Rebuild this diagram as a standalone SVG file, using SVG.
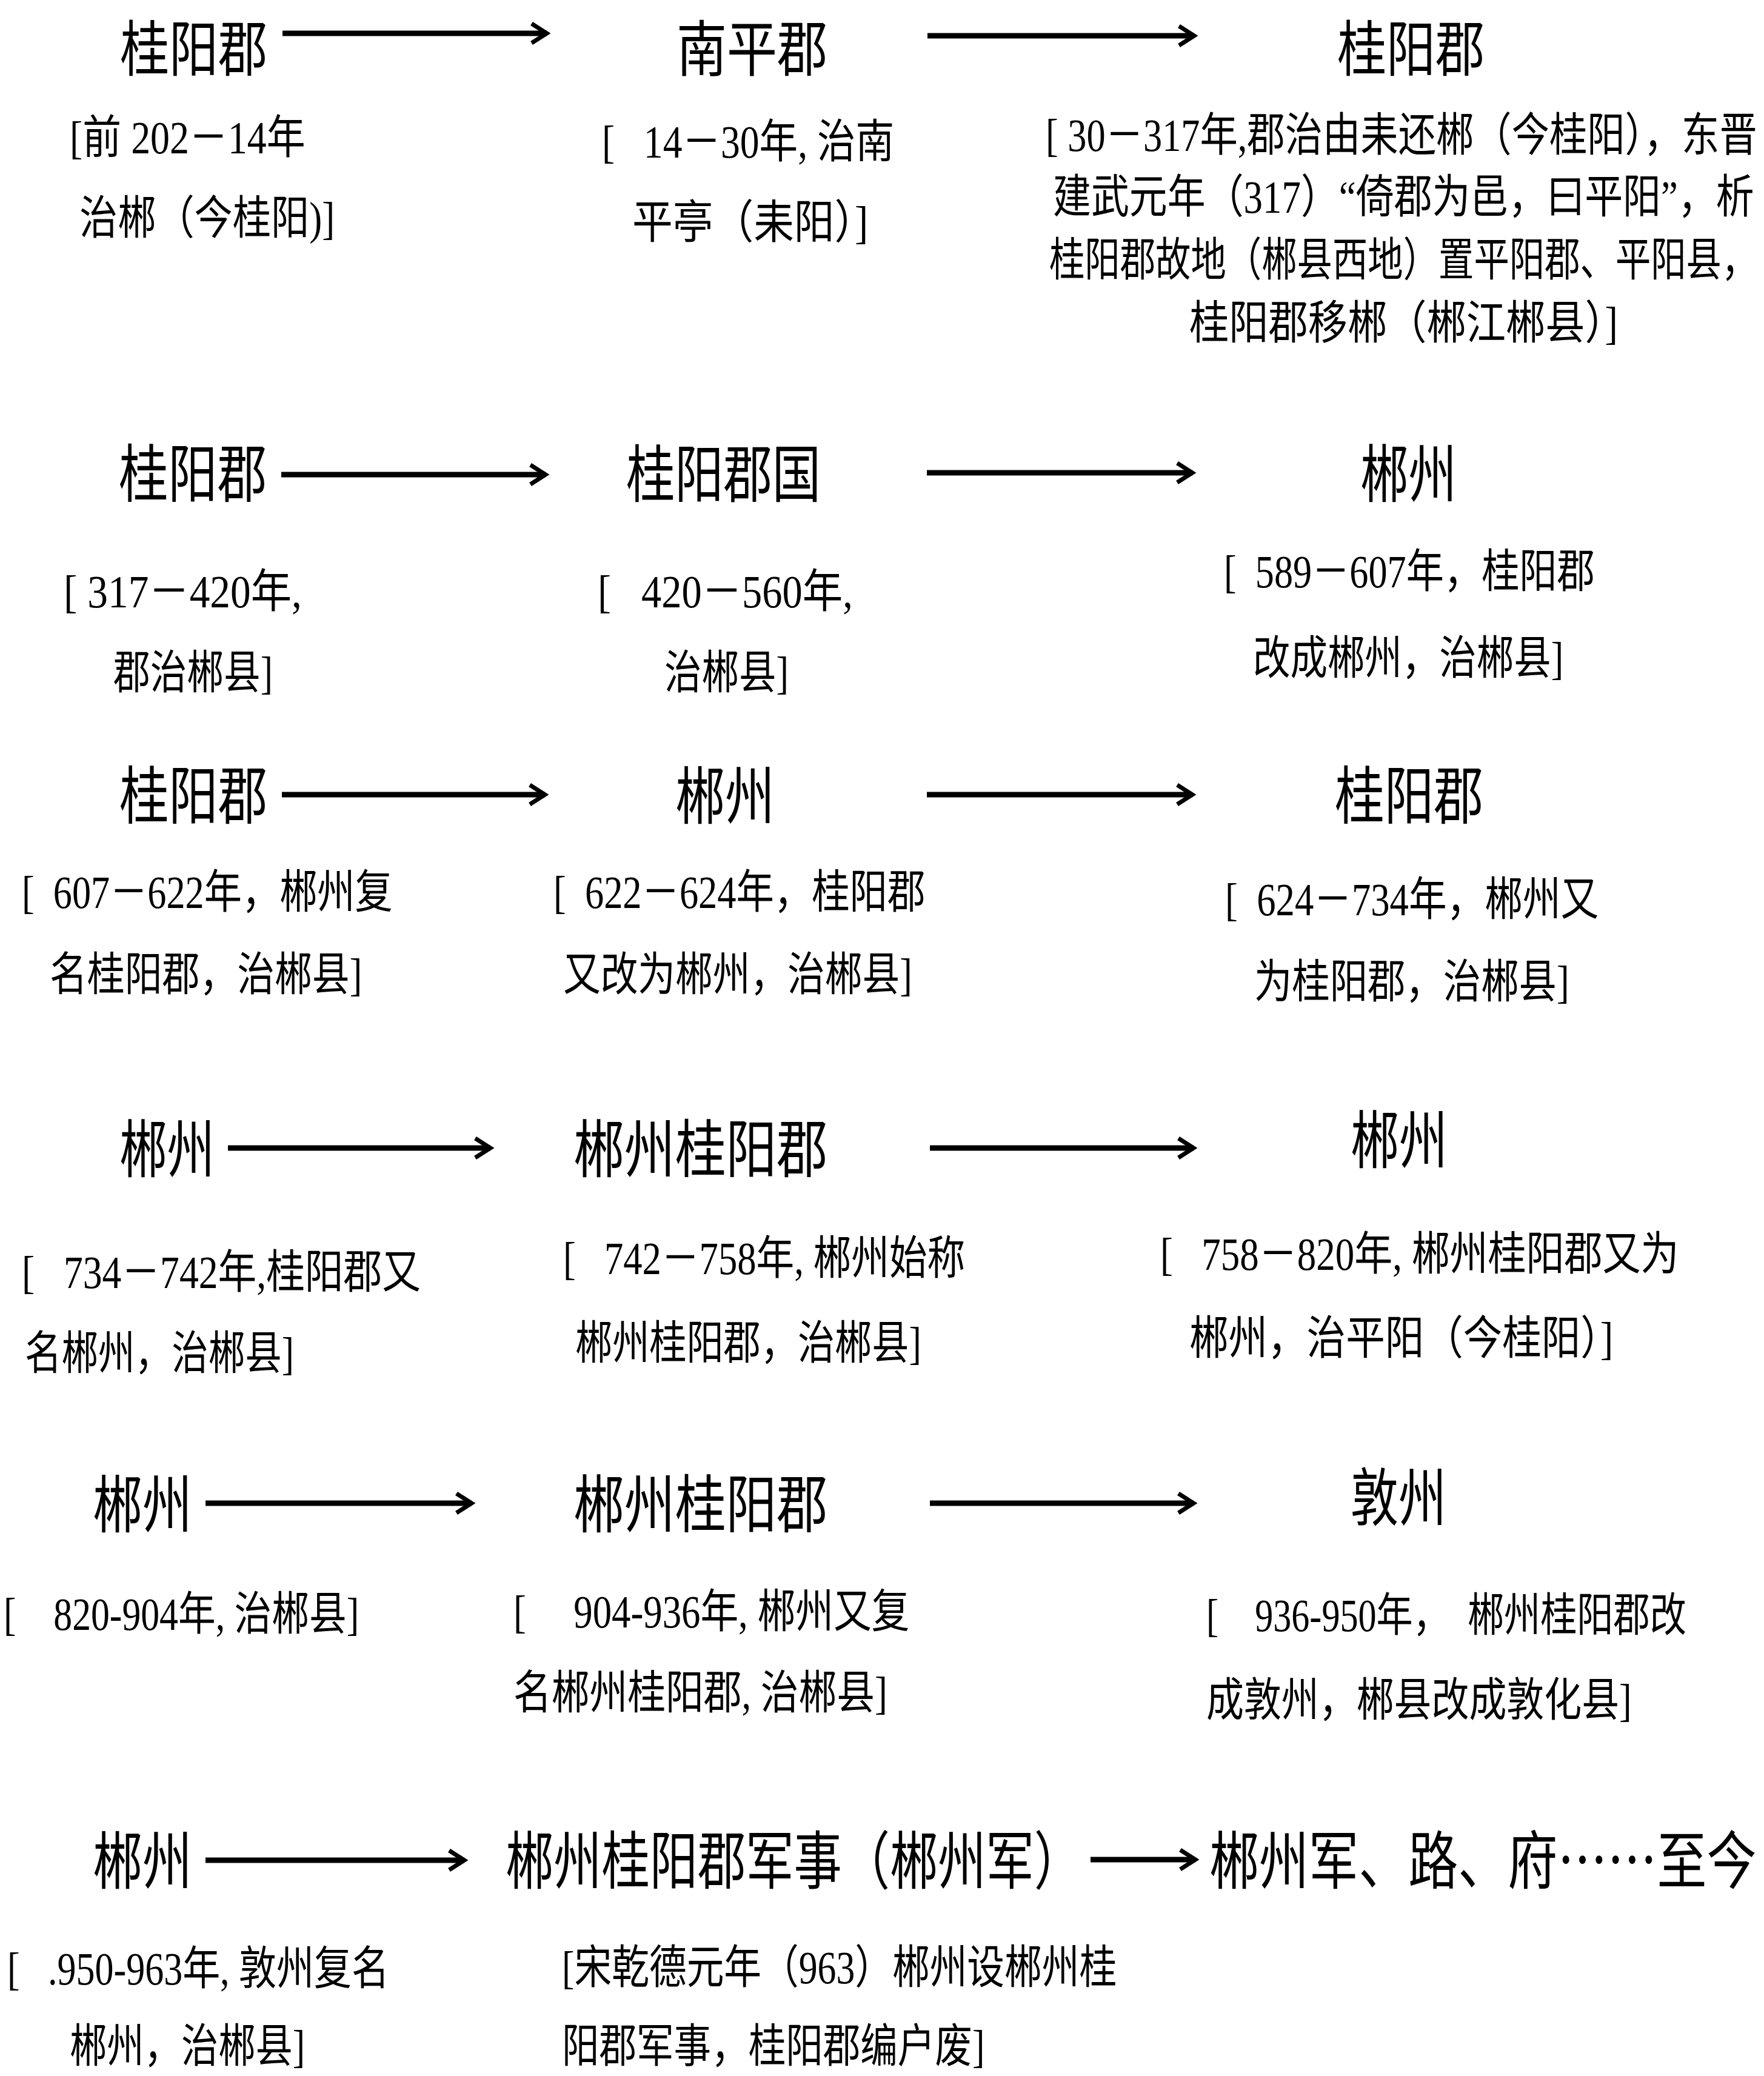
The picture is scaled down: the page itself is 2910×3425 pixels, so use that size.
<svg xmlns="http://www.w3.org/2000/svg" width="2910" height="3425" viewBox="0 0 2910 3425">
<style>
text{font-family:"Liberation Serif","Noto Sans CJK SC",serif;fill:#000;white-space:pre}
.t{font-family:"Noto Sans CJK SC","Liberation Serif",sans-serif;font-size:104px}
.t0{font-size:100px}
.d{font-size:76px}
.arr{stroke:#000;stroke-width:9;fill:none;marker-end:url(#ah)}
</style>
<defs>
<marker id="ah" markerUnits="userSpaceOnUse" markerWidth="50" markerHeight="50" viewBox="-35 -25 50 50" refX="0" refY="0" orient="auto" overflow="visible">
<path d="M-25,-16 L0,0 L-25,16" fill="none" stroke="#000" stroke-width="7"/>
</marker>
</defs>
<rect width="2910" height="3425" fill="#fff"/>
<g id="connectors">
<path class="arr" d="M466,55 H902"/>
<path class="arr" d="M1530,59 H1970"/>
<path class="arr" d="M464,783 H900"/>
<path class="arr" d="M1529,780 H1967"/>
<path class="arr" d="M465,1311 H899"/>
<path class="arr" d="M1529,1311 H1967"/>
<path class="arr" d="M376,1894 H809"/>
<path class="arr" d="M1534,1894 H1969"/>
<path class="arr" d="M339,2480 H778"/>
<path class="arr" d="M1534,2480 H1969"/>
<path class="arr" d="M339,3069 H766"/>
<path class="arr" d="M1799,3068 H1972"/>
</g>
<g id="n1">
<text class="t t0" transform="translate(198,117) scale(0.81,1)" textLength="300" lengthAdjust="spacingAndGlyphs">桂阳郡</text>
<text class="d" transform="translate(115,253) scale(1.007,1)" textLength="386" lengthAdjust="spacingAndGlyphs">[前 202－14年</text>
<text class="d" transform="translate(131,386) scale(0.831,1)" textLength="507" lengthAdjust="spacingAndGlyphs">治郴（今桂阳)]</text>
</g>
<g id="n2">
<text class="t t0" transform="translate(1116,117) scale(0.83,1)" textLength="300" lengthAdjust="spacingAndGlyphs">南平郡</text>
<text class="d" transform="translate(993,260) scale(0.837,1)" textLength="576" lengthAdjust="spacingAndGlyphs">[   14－30年, 治南</text>
<text class="d" transform="translate(1043,393) scale(0.809,1)" textLength="481" lengthAdjust="spacingAndGlyphs">平亭（耒阳）]</text>
</g>
<g id="n3">
<text class="t t0" transform="translate(2206,117) scale(0.81,1)" textLength="300" lengthAdjust="spacingAndGlyphs">桂阳郡</text>
<text class="d" transform="translate(1725,249) scale(0.799,1)" textLength="1469" lengthAdjust="spacingAndGlyphs">[ 30－317年,郡治由耒还郴（今桂阳），东晋</text>
<text class="d" transform="translate(1737,351) scale(0.828,1)" textLength="1397" lengthAdjust="spacingAndGlyphs">建武元年（317）“倚郡为邑，曰平阳”，析</text>
<text class="d" transform="translate(1731,455) scale(0.768,1)" textLength="1520" lengthAdjust="spacingAndGlyphs">桂阳郡故地（郴县西地）置平阳郡、平阳县，</text>
<text class="d" transform="translate(1962,559) scale(0.821,1)" textLength="861" lengthAdjust="spacingAndGlyphs">桂阳郡移郴（郴江郴县）]</text>
</g>
<g id="n4">
<text class="t" transform="translate(196,820) scale(0.782,1)" textLength="312" lengthAdjust="spacingAndGlyphs">桂阳郡</text>
<text class="d" transform="translate(105,1002) scale(0.887,1)" textLength="443" lengthAdjust="spacingAndGlyphs">[ 317－420年,</text>
<text class="d" transform="translate(187,1136) scale(0.799,1)" textLength="329" lengthAdjust="spacingAndGlyphs">郡治郴县]</text>
</g>
<g id="n5">
<text class="t" transform="translate(1033,820) scale(0.772,1)" textLength="416" lengthAdjust="spacingAndGlyphs">桂阳郡国</text>
<text class="d" transform="translate(986,1002) scale(0.875,1)" textLength="481" lengthAdjust="spacingAndGlyphs">[   420－560年,</text>
<text class="d" transform="translate(1096,1136) scale(0.81,1)" textLength="253" lengthAdjust="spacingAndGlyphs">治郴县]</text>
</g>
<g id="n6">
<text class="t" transform="translate(2244,820) scale(0.764,1)" textLength="208" lengthAdjust="spacingAndGlyphs">郴州</text>
<text class="d" transform="translate(2019,969) scale(0.819,1)" textLength="747" lengthAdjust="spacingAndGlyphs">[  589－607年，桂阳郡</text>
<text class="d" transform="translate(2067,1112) scale(0.809,1)" textLength="633" lengthAdjust="spacingAndGlyphs">改成郴州，治郴县]</text>
</g>
<g id="n7">
<text class="t" transform="translate(197,1351) scale(0.782,1)" textLength="312" lengthAdjust="spacingAndGlyphs">桂阳郡</text>
<text class="d" transform="translate(36,1498) scale(0.819,1)" textLength="747" lengthAdjust="spacingAndGlyphs">[  607－622年，郴州复</text>
<text class="d" transform="translate(82,1634) scale(0.814,1)" textLength="633" lengthAdjust="spacingAndGlyphs">名桂阳郡，治郴县]</text>
</g>
<g id="n8">
<text class="t" transform="translate(1114,1351) scale(0.788,1)" textLength="208" lengthAdjust="spacingAndGlyphs">郴州</text>
<text class="d" transform="translate(913,1498) scale(0.821,1)" textLength="747" lengthAdjust="spacingAndGlyphs">[  622－624年，桂阳郡</text>
<text class="d" transform="translate(929,1634) scale(0.812,1)" textLength="709" lengthAdjust="spacingAndGlyphs">又改为郴州，治郴县]</text>
</g>
<g id="n9">
<text class="t" transform="translate(2202,1351) scale(0.785,1)" textLength="312" lengthAdjust="spacingAndGlyphs">桂阳郡</text>
<text class="d" transform="translate(2021,1510) scale(0.825,1)" textLength="747" lengthAdjust="spacingAndGlyphs">[  624－734年，郴州又</text>
<text class="d" transform="translate(2069,1646) scale(0.821,1)" textLength="633" lengthAdjust="spacingAndGlyphs">为桂阳郡，治郴县]</text>
</g>
<g id="n10">
<text class="t" transform="translate(197,1934) scale(0.755,1)" textLength="208" lengthAdjust="spacingAndGlyphs">郴州</text>
<text class="d" transform="translate(36,2125) scale(0.838,1)" textLength="785" lengthAdjust="spacingAndGlyphs">[   734－742年,桂阳郡又</text>
<text class="d" transform="translate(41,2259) scale(0.797,1)" textLength="557" lengthAdjust="spacingAndGlyphs">名郴州，治郴县]</text>
</g>
<g id="n11">
<text class="t" transform="translate(946,1934) scale(0.806,1)" textLength="520" lengthAdjust="spacingAndGlyphs">郴州桂阳郡</text>
<text class="d" transform="translate(929,2102) scale(0.825,1)" textLength="804" lengthAdjust="spacingAndGlyphs">[   742－758年, 郴州始称</text>
<text class="d" transform="translate(949,2242) scale(0.805,1)" textLength="709" lengthAdjust="spacingAndGlyphs">郴州桂阳郡，治郴县]</text>
</g>
<g id="n12">
<text class="t" transform="translate(2228,1919) scale(0.769,1)" textLength="208" lengthAdjust="spacingAndGlyphs">郴州</text>
<text class="d" transform="translate(1914,2095) scale(0.829,1)" textLength="1032" lengthAdjust="spacingAndGlyphs">[   758－820年, 郴州桂阳郡又为</text>
<text class="d" transform="translate(1962,2234) scale(0.812,1)" textLength="861" lengthAdjust="spacingAndGlyphs">郴州，治平阳（今桂阳）]</text>
</g>
<g id="n13">
<text class="t" transform="translate(153,2520) scale(0.788,1)" textLength="208" lengthAdjust="spacingAndGlyphs">郴州</text>
<text class="d" transform="translate(6,2689) scale(0.812,1)" textLength="722" lengthAdjust="spacingAndGlyphs">[    820-904年, 治郴县]</text>
</g>
<g id="n14">
<text class="t" transform="translate(946,2520) scale(0.806,1)" textLength="520" lengthAdjust="spacingAndGlyphs">郴州桂阳郡</text>
<text class="d" transform="translate(847,2685) scale(0.825,1)" textLength="792" lengthAdjust="spacingAndGlyphs">[     904-936年, 郴州又复</text>
<text class="d" transform="translate(847,2819) scale(0.826,1)" textLength="747" lengthAdjust="spacingAndGlyphs">名郴州桂阳郡, 治郴县]</text>
</g>
<g id="n15">
<text class="t" transform="translate(2228,2509) scale(0.76,1)" textLength="208" lengthAdjust="spacingAndGlyphs">敦州</text>
<text class="d" transform="translate(1990,2691) scale(0.791,1)" textLength="1001" lengthAdjust="spacingAndGlyphs">[    936-950年，  郴州桂阳郡改</text>
<text class="d" transform="translate(1990,2831) scale(0.815,1)" textLength="861" lengthAdjust="spacingAndGlyphs">成敦州，郴县改成敦化县]</text>
</g>
<g id="n16">
<text class="t" transform="translate(153,3108) scale(0.788,1)" textLength="208" lengthAdjust="spacingAndGlyphs">郴州</text>
<text class="d" transform="translate(12,3274) scale(0.815,1)" textLength="773" lengthAdjust="spacingAndGlyphs">[   .950-963年, 敦州复名</text>
<text class="d" transform="translate(115,3402) scale(0.807,1)" textLength="481" lengthAdjust="spacingAndGlyphs">郴州，治郴县]</text>
</g>
<g id="n17">
<text class="t" transform="translate(834,3108) scale(0.762,1)" textLength="1248" lengthAdjust="spacingAndGlyphs">郴州桂阳郡军事（郴州军）</text>
<text class="d" transform="translate(927,3272) scale(0.812,1)" textLength="1127" lengthAdjust="spacingAndGlyphs">[宋乾德元年（963）郴州设郴州桂</text>
<text class="d" transform="translate(927,3402) scale(0.81,1)" textLength="861" lengthAdjust="spacingAndGlyphs">阳郡军事，桂阳郡编户废]</text>
</g>
<g id="n18">
<text class="t" transform="translate(1995,3108) scale(0.789,1)" textLength="1144" lengthAdjust="spacingAndGlyphs">郴州军、路、府……至今</text>
</g>
</svg>
